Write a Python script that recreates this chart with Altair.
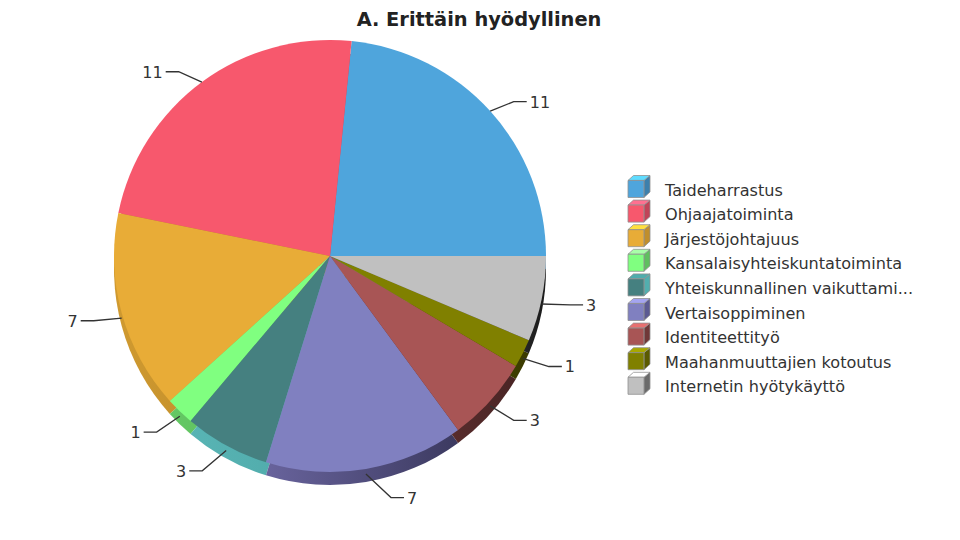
import math
import altair as alt
import pandas as pd

title = "A. Erittäin hyödyllinen"
names = ["Taideharrastus", "Ohjaajatoiminta", "Järjestöjohtajuus", "Kansalaisyhteiskuntatoiminta",
         "Yhteiskunnallinen vaikuttami...", "Vertaisoppiminen", "Identiteettityö",
         "Maahanmuuttajien kotoutus", "Internetin hyötykäyttö"]
values = [11, 11, 7, 1, 3, 7, 3, 1, 3]
front = ["#4fa5dc", "#f7586d", "#e8ac37", "#80ff80", "#458080", "#8080c0", "#a85555", "#808000", "#c0c0c0"]
top = ["#5fdcff", "#ff7090", "#ffe040", "#a8ffa8", "#50acac", "#a4a4f0", "#e87070", "#a8a800", "#ffffff"]
side = ["#3d80ac", "#c04458", "#c08e2c", "#5fbf5f", "#52aeae", "#5c5a92", "#703838", "#5a5a00", "#6a6a6a"]
side_left = ["#3d80ac", "#c04458", "#d09a30", "#64c864", "#58b4b4", "#68639c", "#703838", "#6a6a00", "#8a8a8a"]
side_right = ["#3d80ac", "#c04458", "#b08228", "#5ab45a", "#4ea8a8", "#3c3a60", "#4a2525", "#3a3a00", "#1a1a1a"]

CX, CY, R, DEPTH = 322, 248, 216, 13
total = sum(values)
starts = [sum(values[:i]) for i in range(len(values))]
ends = [s + v for s, v in zip(starts, values)]
df = pd.DataFrame(dict(name=names, value=values, t0=starts, t1=ends, front=front, top=top, side=side))

theta_scale = alt.Scale(domain=[0, total], range=[math.pi / 2, -3 * math.pi / 2])
th = alt.Theta("t0:Q", scale=theta_scale)
th2 = alt.Theta2("t1:Q")
cx, cy = alt.value(CX), alt.value(CY)
layers = []

# pie side walls
for i, n in enumerate(names):
    grad = alt.LinearGradient(gradient="linear", x1=0, x2=1, y1=0, y2=0,
                              stops=[alt.GradientStop(color=side_left[i], offset=0),
                                     alt.GradientStop(color=side_right[i], offset=1)])
    layers.append(alt.Chart(df[df.name == n]).mark_arc(radius=R, fill=grad, yOffset=DEPTH)
                  .encode(theta=th, theta2=th2, x=cx, y=cy))

# pie top faces
layers.append(alt.Chart(df).mark_arc(radius=R).encode(
    theta=th, theta2=th2, x=cx, y=cy, fill=alt.Fill("front:N", scale=None)))

# leaders
rows = []
labels = []
for n, s, e, v in zip(names, starts, ends, values):
    a = (s + e) / 2 / total * 2 * math.pi
    c, sn = math.cos(a), math.sin(a)
    sgn = 1 if c >= 0 else -1
    lift = (10 if c >= 0 else 13) if sn > 0 else 0
    drop = 0 if sn > 0 else 5
    ex = CX + 245 * c + sgn * 22 * sn ** 6
    ey = CY - 245 * sn + lift
    hx = ex + sgn * 13
    pts = [(CX + R * c, CY - R * sn + drop), (ex, ey), (hx, ey)]
    for k, (px, py) in enumerate(pts):
        rows.append(dict(name=n, k=k, px=px, py=py))
    labels.append(dict(lab=str(v), px=hx + sgn * 3, py=ey + 1, al="left" if sgn > 0 else "right"))
ld = pd.DataFrame(rows)
lb = pd.DataFrame(labels)
layers.append(alt.Chart(ld).mark_line(color="#333333", strokeWidth=1.3).encode(
    x=alt.X("px:Q", scale=None), y=alt.Y("py:Q", scale=None), detail="name:N", order="k:Q"))
for al in ["left", "right"]:
    layers.append(alt.Chart(lb[lb.al == al]).mark_text(
        align=al, baseline="middle", font="DejaVu Sans", fontSize=16, color="#333333").encode(
        x=alt.X("px:Q", scale=None), y=alt.Y("py:Q", scale=None), text="lab:N"))

# legend
ly = alt.Y("name:N", scale=alt.Scale(type="point", domain=names, range=[178.5, 375.3], padding=0), axis=None)
lx = alt.value(631)
SHAPE_FRONT = "M-1,-0.55L0.45,-0.55L0.45,1L-1,1Z"
SHAPE_TOP = "M-1,-0.55L-0.5,-1L1,-1L0.45,-0.55Z"
SHAPE_SIDE = "M0.45,-0.55L1,-1L1,0.5L0.45,1Z"
for shape, col in [(SHAPE_SIDE, "side"), (SHAPE_TOP, "top"), (SHAPE_FRONT, "front")]:
    layers.append(alt.Chart(df).mark_point(shape=shape, size=484, filled=True, opacity=1,
                                           stroke="#909090", strokeWidth=0.8).encode(
        x=lx, y=ly, fill=alt.Fill(f"{col}:N", scale=None)))
layers.append(alt.Chart(df).mark_text(align="left", baseline="middle", dy=4, font="DejaVu Sans",
                                      fontSize=16.1, color="#333333").encode(
    x=alt.value(657), y=ly, text="name:N"))

# title
layers.append(alt.Chart(pd.DataFrame({"t": [title]})).mark_text(
    align="center", baseline="middle", font="DejaVu Sans", fontWeight="bold", fontSize=19.4,
    color="#222222").encode(x=alt.value(471), y=alt.value(12), text="t:N"))

chart = alt.layer(*layers).properties(
    width=944, height=524, padding=0, autosize=alt.AutoSizeParams(type="none"), background="white"
).configure_view(stroke=None)
chart.save("out.html", embed_options={"renderer": "svg", "actions": False})
